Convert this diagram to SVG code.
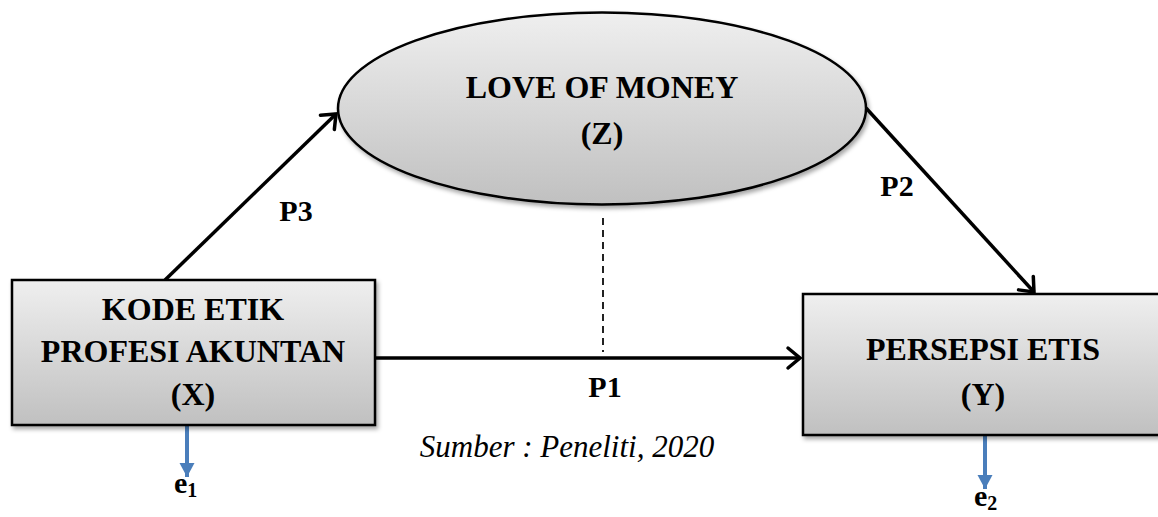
<svg xmlns="http://www.w3.org/2000/svg" width="1158" height="517" viewBox="0 0 1158 517">
<defs>
<style>
.node{stroke:#000;stroke-width:2.5}
.t{font-family:"Liberation Serif","Times New Roman",serif;font-weight:bold;font-size:32px;fill:#000;text-anchor:middle}
.lbl{font-family:"Liberation Serif","Times New Roman",serif;font-weight:bold;font-size:30px;fill:#000;text-anchor:middle}
.src{font-family:"Liberation Serif","Times New Roman",serif;font-style:italic;font-size:31px;fill:#000;text-anchor:middle}
.e{font-family:"Liberation Serif","Times New Roman",serif;font-weight:bold;font-size:30px;fill:#000}
.conn{stroke:#000;stroke-width:3.5;fill:none;marker-end:url(#open)}
.err{stroke:#4a7ebb;stroke-width:4;fill:none;marker-end:url(#tri)}
</style>
<linearGradient id="g" x1="0" y1="0" x2="0" y2="1">
<stop offset="0" stop-color="#efefef"/>
<stop offset="1" stop-color="#c0c0c0"/>
</linearGradient>
<filter id="sh" x="-10%" y="-10%" width="130%" height="130%">
<feDropShadow dx="2" dy="3" stdDeviation="2" flood-color="#000" flood-opacity="0.35"/>
</filter>
<marker id="open" markerUnits="userSpaceOnUse" markerWidth="30" markerHeight="30" refX="16" refY="12" orient="auto" viewBox="0 0 30 24">
<path d="M4,2 L16,12 L4,22" fill="none" stroke="#000" stroke-width="3.5" stroke-linecap="round" stroke-linejoin="miter"/>
</marker>
<marker id="tri" markerUnits="userSpaceOnUse" markerWidth="16" markerHeight="16" refX="14" refY="7.5" orient="auto" viewBox="0 0 16 16">
<path d="M0,0 L14,7.5 L0,15 Z" fill="#4a7ebb"/>
</marker>
</defs>
<rect width="1158" height="517" fill="#fff"/>
<g id="connectors">
<line class="conn" x1="165" y1="280" x2="336" y2="114"/>
<line class="conn" x1="866" y1="108" x2="1034" y2="292"/>
<line class="conn" x1="375" y1="358" x2="800" y2="358"/>
<line x1="603" y1="218" x2="603" y2="352" stroke="#222" stroke-width="2" stroke-dasharray="7,5"/>
<line class="err" x1="187" y1="426" x2="187" y2="477"/>
<line class="err" x1="985" y1="436" x2="985" y2="489"/>
<text class="lbl" x="296" y="221">P3</text>
<text class="lbl" x="897" y="196">P2</text>
<text class="lbl" x="605" y="397">P1</text>
</g>
<g id="node-z">
<ellipse class="node" cx="602" cy="108.5" rx="264" ry="96" fill="url(#g)" filter="url(#sh)"/>
<text class="t" x="602" y="98">LOVE OF MONEY</text>
<text class="t" x="602" y="144">(Z)</text>
</g>
<g id="node-x">
<rect class="node" x="12" y="280" width="363" height="145" fill="url(#g)" filter="url(#sh)"/>
<text class="t" x="193" y="320">KODE ETIK</text>
<text class="t" x="193" y="362">PROFESI AKUNTAN</text>
<text class="t" x="193" y="405">(X)</text>
</g>
<g id="node-y">
<rect class="node" x="803" y="294" width="365" height="141" fill="url(#g)" filter="url(#sh)"/>
<text class="t" x="983" y="360">PERSEPSI ETIS</text>
<text class="t" x="983" y="405">(Y)</text>
</g>
<g id="e1">
<text class="e" x="174" y="493">e<tspan font-size="20" dy="4">1</tspan></text>
</g>
<g id="e2">
<text class="e" x="974" y="506">e<tspan font-size="20" dy="4">2</tspan></text>
</g>
<text class="src" x="567" y="457">Sumber : Peneliti, 2020</text>
</svg>
